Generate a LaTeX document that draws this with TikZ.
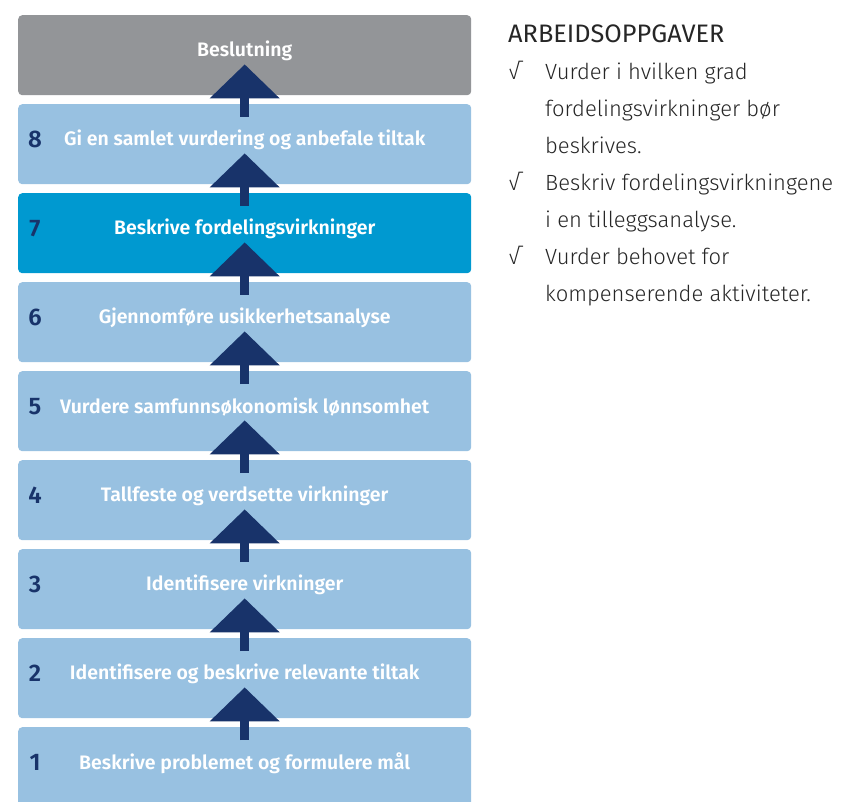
\documentclass[tikz,border=0pt]{standalone}
\usepackage{fontspec}
\setmainfont{Fira Sans}[BoldFont={Fira Sans SemiBold}]
\newfontfamily\lightfont{Fira Sans Light}
\usetikzlibrary{arrows.meta}
\definecolor{boxgray}{HTML}{939598}
\definecolor{boxlight}{HTML}{98C1E1}
\definecolor{boxbright}{HTML}{0099D0}
\definecolor{navy}{HTML}{18336A}
\tikzset{
  stepbox/.style={draw=none, rounded corners=4pt, minimum width=453pt, minimum height=80pt, inner sep=0pt, anchor=north west},
  steptext/.style={text=white, font=\bfseries\fontsize{19.5}{22}\selectfont, anchor=center},
  stepnum/.style={text=navy, font=\bfseries\fontsize{24}{26}\selectfont, anchor=center},
  bigarrow/.style={draw=navy, line width=9pt, -{Triangle[width=68pt,length=34pt]}},
  listtext/.style={font=\lightfont\fontsize{22}{26}\selectfont, anchor=base west, inner sep=0pt, text=black!85},
  headtext/.style={font=\fontsize{25.3}{28}\selectfont, anchor=base west, inner sep=0pt, text=black!85},
}
\begin{document}
\begin{tikzpicture}[x=1pt,y=-1pt]
\clip (0,0) rectangle (865,802);
\fill[white] (0,0) rectangle (865,802);
% boxes
\node[stepbox, fill=boxgray] (b0) at (18,15) {};
\node[stepbox, fill=boxlight] (b8) at (18,104) {};
\node[stepbox, fill=boxbright] (b7) at (18,193) {};
\node[stepbox, fill=boxlight] (b6) at (18,282) {};
\node[stepbox, fill=boxlight] (b5) at (18,371) {};
\node[stepbox, fill=boxlight] (b4) at (18,460) {};
\node[stepbox, fill=boxlight] (b3) at (18,549) {};
\node[stepbox, fill=boxlight] (b2) at (18,638) {};
\node[stepbox, fill=boxlight] (b1) at (18,727) {};
% texts
\node[steptext] (t0) at ([yshift=4pt]b0.center) {Beslutning};
\node[steptext] (t8) at ([yshift=4pt]b8.center) {Gi en samlet vurdering og anbefale tiltak};
\node[steptext] (t7) at ([yshift=4pt]b7.center) {Beskrive fordelingsvirkninger};
\node[steptext] (t6) at ([yshift=4pt]b6.center) {Gjennomføre usikkerhetsanalyse};
\node[steptext] (t5) at ([yshift=4pt]b5.center) {Vurdere samfunnsøkonomisk lønnsomhet};
\node[steptext] (t4) at ([yshift=4pt]b4.center) {Tallfeste og verdsette virkninger};
\node[steptext] (t3) at ([yshift=4pt]b3.center) {Identifisere virkninger};
\node[steptext] (t2) at ([yshift=4pt]b2.center) {Identifisere og beskrive relevante tiltak};
\node[steptext] (t1) at ([yshift=4pt]b1.center) {Beskrive problemet og formulere mål};
% numbers
\foreach \k in {1,...,8}{
  \node[stepnum] (n\k) at ([xshift=17pt,yshift=5pt]b\k.west) {\k};
}
% arrows
\draw[bigarrow] ([yshift=-13pt]b8.north) -- ([yshift=31pt]b0.south);
\draw[bigarrow] ([yshift=-13pt]b7.north) -- ([yshift=31pt]b8.south);
\draw[bigarrow] ([yshift=-13pt]b6.north) -- ([yshift=31pt]b7.south);
\draw[bigarrow] ([yshift=-13pt]b5.north) -- ([yshift=31pt]b6.south);
\draw[bigarrow] ([yshift=-13pt]b4.north) -- ([yshift=31pt]b5.south);
\draw[bigarrow] ([yshift=-13pt]b3.north) -- ([yshift=31pt]b4.south);
\draw[bigarrow] ([yshift=-13pt]b2.north) -- ([yshift=31pt]b3.south);
\draw[bigarrow] ([yshift=-13pt]b1.north) -- ([yshift=31pt]b2.south);
% right list
\node[headtext] (head) at (508,43) {ARBEIDSOPPGAVER};
\node[listtext] (c1) at (508,80) {√};
\node[listtext] (l1a) at (545,80) {Vurder i hvilken grad};
\node[listtext] (l1b) at (545,117) {fordelingsvirkninger bør};
\node[listtext] (l1c) at (545,154) {beskrives.};
\node[listtext] (c2) at (508,191) {√};
\node[listtext] (l2a) at (545,191) {Beskriv fordelingsvirkningene};
\node[listtext] (l2b) at (545,228) {i en tilleggsanalyse.};
\node[listtext] (c3) at (508,265) {√};
\node[listtext] (l3a) at (545,265) {Vurder behovet for};
\node[listtext] (l3b) at (545,302) {kompenserende aktiviteter.};
\end{tikzpicture}
\end{document}
